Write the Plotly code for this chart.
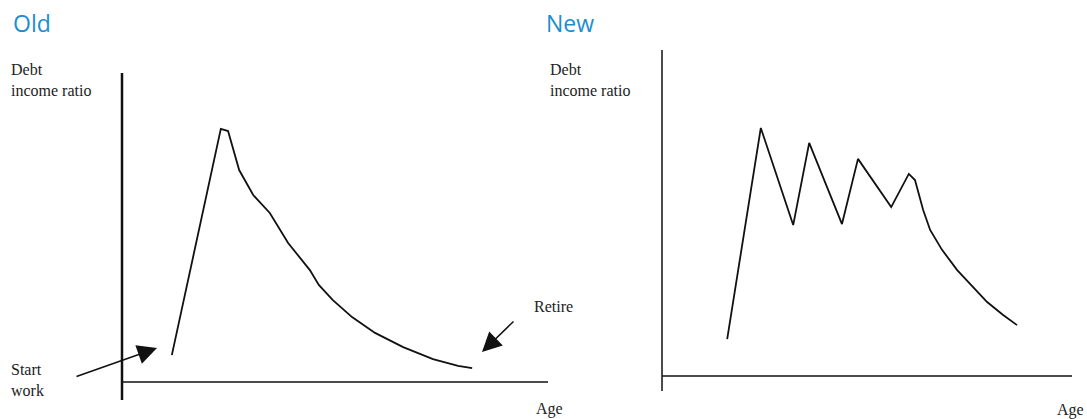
import plotly.graph_objects as go

W, H = 1087, 419

# ---- Data (schematic: age units 0-100 along x-axis, debt/income ratio 0-100) ----
old_age = [11.7, 23.2, 24.9, 27.5, 30.8, 34.7, 39.0, 44.1, 46.2, 49.5, 54.0, 59.4, 66.0, 73.0, 78.9, 82.2]
old_ratio = [8.7, 81.9, 81.2, 68.6, 60.5, 54.7, 45.0, 36.2, 31.4, 26.5, 21.0, 15.9, 11.3, 7.4, 5.2, 4.5]

new_age = [15.9, 24.1, 32.0, 35.9, 43.9, 47.8, 55.9, 60.2, 61.7, 63.7, 65.4, 68.3, 72.0, 75.9, 79.3, 83.2, 86.6]
new_ratio = [11.3, 76.1, 46.3, 71.5, 46.6, 66.6, 51.8, 62.0, 60.1, 50.9, 44.8, 38.7, 32.5, 27.3, 22.7, 18.7, 15.6]

panel_titles = ["Old", "New"]
y_label = "Debt<br>income ratio"
x_label = "Age"


def px(x):
    return x / W


def py(y):
    return 1 - y / H


fig = go.Figure()
fig.add_trace(go.Scatter(x=old_age, y=old_ratio, mode="lines",
                         line=dict(color="#111", width=1.8), xaxis="x", yaxis="y",
                         showlegend=False, hoverinfo="skip"))
fig.add_trace(go.Scatter(x=new_age, y=new_ratio, mode="lines",
                         line=dict(color="#111", width=1.8), xaxis="x2", yaxis="y2",
                         showlegend=False, hoverinfo="skip"))

hidden = dict(visible=False, range=[0, 100], fixedrange=True)
fig.update_layout(
    width=W, height=H,
    margin=dict(l=0, r=0, t=0, b=0),
    paper_bgcolor="white", plot_bgcolor="white",
    xaxis=dict(domain=[px(122), px(548)], anchor="y", **hidden),
    yaxis=dict(domain=[py(382), py(73)], anchor="x", **hidden),
    xaxis2=dict(domain=[px(662), px(1072)], anchor="y2", **hidden),
    yaxis2=dict(domain=[py(376), py(50)], anchor="x2", **hidden),
)

# axis lines
shapes = [
    dict(type="line", xref="paper", yref="paper", x0=px(122), x1=px(122), y0=py(400), y1=py(73),
         line=dict(color="#111", width=2.5)),
    dict(type="line", xref="paper", yref="paper", x0=px(122), x1=px(548), y0=py(382), y1=py(382),
         line=dict(color="#111", width=1.5)),
    dict(type="line", xref="paper", yref="paper", x0=px(662), x1=px(662), y0=py(391), y1=py(50),
         line=dict(color="#111", width=1.5)),
    dict(type="line", xref="paper", yref="paper", x0=px(662), x1=px(1072), y0=py(376), y1=py(376),
         line=dict(color="#111", width=1.5)),
]
fig.update_layout(shapes=shapes)

serif = dict(family="Liberation Serif, Times New Roman, serif", size=16, color="#222")
title_font = dict(family="Open Sans, Noto Sans, sans-serif", size=23, color="#1b8dd2")

ann = []
# panel titles
ann.append(dict(text=panel_titles[0], x=px(11), y=py(23), xref="paper", yref="paper",
                xanchor="left", yanchor="middle", showarrow=False, font=title_font))
ann.append(dict(text=panel_titles[1], x=px(544), y=py(23), xref="paper", yref="paper",
                xanchor="left", yanchor="middle", showarrow=False, font=title_font))
# y labels
for x0 in (9, 548):
    ann.append(dict(text=y_label, x=px(x0), y=py(80), xref="paper", yref="paper",
                    xanchor="left", yanchor="middle", align="left", showarrow=False, font=serif))
# x labels
ann.append(dict(text=x_label, x=px(534), y=py(409), xref="paper", yref="paper",
                xanchor="left", yanchor="middle", showarrow=False, font=serif))
ann.append(dict(text=x_label, x=px(1055), y=py(410), xref="paper", yref="paper",
                xanchor="left", yanchor="middle", showarrow=False, font=serif))
# Start work / Retire
ann.append(dict(text="Start<br>work", x=px(9), y=py(380), xref="paper", yref="paper",
                xanchor="left", yanchor="middle", align="left", showarrow=False, font=serif))
ann.append(dict(text="Retire", x=px(532), y=py(306), xref="paper", yref="paper",
                xanchor="left", yanchor="middle", showarrow=False, font=serif))
# arrows
ann.append(dict(text="", x=px(157), y=py(348), xref="paper", yref="paper",
                ax=75 - 157, ay=377 - 348, showarrow=True, arrowhead=2,
                arrowsize=2.6, arrowwidth=1.5, arrowcolor="#111", standoff=0))
ann.append(dict(text="", x=px(482), y=py(352), xref="paper", yref="paper",
                ax=515 - 482, ay=320 - 352, showarrow=True, arrowhead=2,
                arrowsize=2.6, arrowwidth=1.5, arrowcolor="#111", standoff=0))
fig.update_layout(annotations=ann)

fig.write_html(
    "out.html",
    config={"displayModeBar": False, "staticPlot": True},
    post_script="document.body.style.margin='0';document.body.style.overflow='hidden';",
)
